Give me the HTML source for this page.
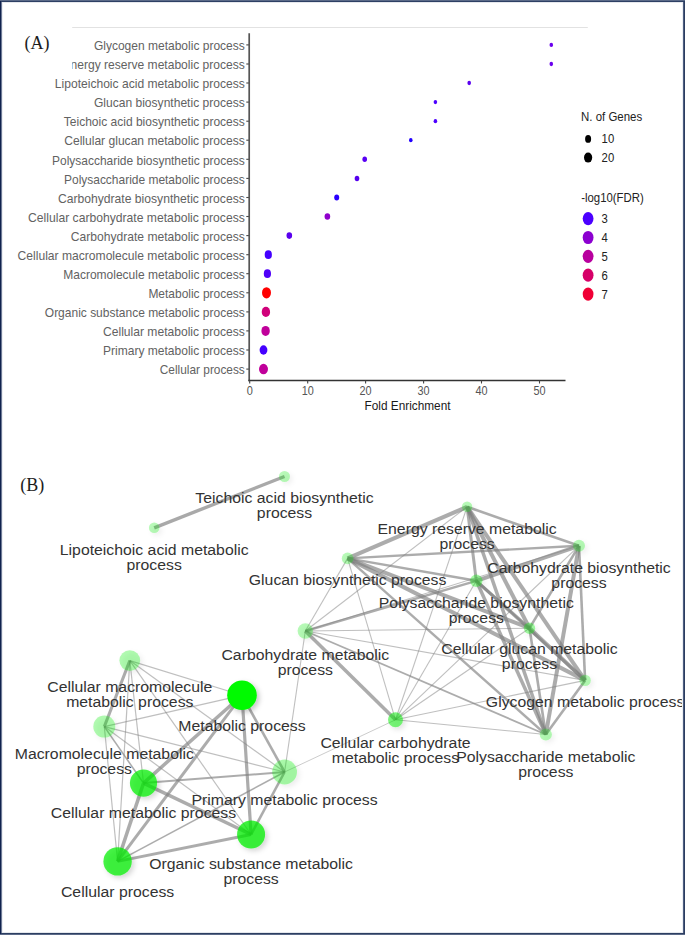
<!DOCTYPE html>
<html><head><meta charset="utf-8"><style>
html,body{margin:0;padding:0;background:#fff;}
#wrap{position:relative;width:685px;height:935px;overflow:hidden;background:#fff;}
svg{position:absolute;left:0;top:0;}
.b{position:absolute;}
</style></head><body><div id="wrap">
<svg width="685" height="935" viewBox="0 0 685 935">
<defs>
<clipPath id="clipE"><rect x="72.2" y="0" width="300" height="935"/></clipPath>
<filter id="sh" x="-60%" y="-60%" width="240%" height="240%"><feDropShadow dx="2.5" dy="2.5" stdDeviation="2.5" flood-color="#000" flood-opacity="0.22"/></filter>
</defs>
<line x1="72.2" y1="27.5" x2="587.8" y2="27.5" stroke="#e2e2e2" stroke-width="1.2"/>
<g font-family="Liberation Sans, sans-serif" font-size="12.9" fill="#626262" text-anchor="end">
<text x="244.8" y="50.1" textLength="150.9" lengthAdjust="spacingAndGlyphs">Glycogen metabolic process</text>
<text x="244.8" y="69.2" textLength="182.3" lengthAdjust="spacingAndGlyphs" clip-path="url(#clipE)">Energy reserve metabolic process</text>
<text x="244.8" y="88.2" textLength="190.0" lengthAdjust="spacingAndGlyphs">Lipoteichoic acid metabolic process</text>
<text x="244.8" y="107.3" textLength="150.9" lengthAdjust="spacingAndGlyphs">Glucan biosynthetic process</text>
<text x="244.8" y="126.4" textLength="181.0" lengthAdjust="spacingAndGlyphs">Teichoic acid biosynthetic process</text>
<text x="244.8" y="145.4" textLength="180.6" lengthAdjust="spacingAndGlyphs">Cellular glucan metabolic process</text>
<text x="244.8" y="164.5" textLength="192.7" lengthAdjust="spacingAndGlyphs">Polysaccharide biosynthetic process</text>
<text x="244.8" y="183.6" textLength="180.8" lengthAdjust="spacingAndGlyphs">Polysaccharide metabolic process</text>
<text x="244.8" y="202.7" textLength="186.9" lengthAdjust="spacingAndGlyphs">Carbohydrate biosynthetic process</text>
<text x="244.8" y="221.7" textLength="216.8" lengthAdjust="spacingAndGlyphs">Cellular carbohydrate metabolic process</text>
<text x="244.8" y="240.8" textLength="174.0" lengthAdjust="spacingAndGlyphs">Carbohydrate metabolic process</text>
<text x="244.8" y="259.9" textLength="227.2" lengthAdjust="spacingAndGlyphs">Cellular macromolecule metabolic process</text>
<text x="244.8" y="278.9" textLength="181.6" lengthAdjust="spacingAndGlyphs">Macromolecule metabolic process</text>
<text x="244.8" y="298.0" textLength="96.4" lengthAdjust="spacingAndGlyphs">Metabolic process</text>
<text x="244.8" y="317.1" textLength="200.0" lengthAdjust="spacingAndGlyphs">Organic substance metabolic process</text>
<text x="244.8" y="336.1" textLength="141.8" lengthAdjust="spacingAndGlyphs">Cellular metabolic process</text>
<text x="244.8" y="355.2" textLength="141.8" lengthAdjust="spacingAndGlyphs">Primary metabolic process</text>
<text x="244.8" y="374.3" textLength="85.0" lengthAdjust="spacingAndGlyphs">Cellular process</text>
</g>
<line x1="246.3" y1="44.9" x2="249.2" y2="44.9" stroke="#444" stroke-width="1.1"/>
<line x1="246.3" y1="64.0" x2="249.2" y2="64.0" stroke="#444" stroke-width="1.1"/>
<line x1="246.3" y1="83.0" x2="249.2" y2="83.0" stroke="#444" stroke-width="1.1"/>
<line x1="246.3" y1="102.1" x2="249.2" y2="102.1" stroke="#444" stroke-width="1.1"/>
<line x1="246.3" y1="121.2" x2="249.2" y2="121.2" stroke="#444" stroke-width="1.1"/>
<line x1="246.3" y1="140.2" x2="249.2" y2="140.2" stroke="#444" stroke-width="1.1"/>
<line x1="246.3" y1="159.3" x2="249.2" y2="159.3" stroke="#444" stroke-width="1.1"/>
<line x1="246.3" y1="178.4" x2="249.2" y2="178.4" stroke="#444" stroke-width="1.1"/>
<line x1="246.3" y1="197.5" x2="249.2" y2="197.5" stroke="#444" stroke-width="1.1"/>
<line x1="246.3" y1="216.5" x2="249.2" y2="216.5" stroke="#444" stroke-width="1.1"/>
<line x1="246.3" y1="235.6" x2="249.2" y2="235.6" stroke="#444" stroke-width="1.1"/>
<line x1="246.3" y1="254.7" x2="249.2" y2="254.7" stroke="#444" stroke-width="1.1"/>
<line x1="246.3" y1="273.7" x2="249.2" y2="273.7" stroke="#444" stroke-width="1.1"/>
<line x1="246.3" y1="292.8" x2="249.2" y2="292.8" stroke="#444" stroke-width="1.1"/>
<line x1="246.3" y1="311.9" x2="249.2" y2="311.9" stroke="#444" stroke-width="1.1"/>
<line x1="246.3" y1="330.9" x2="249.2" y2="330.9" stroke="#444" stroke-width="1.1"/>
<line x1="246.3" y1="350.0" x2="249.2" y2="350.0" stroke="#444" stroke-width="1.1"/>
<line x1="246.3" y1="369.1" x2="249.2" y2="369.1" stroke="#444" stroke-width="1.1"/>
<line x1="249.2" y1="33.3" x2="249.2" y2="381.3" stroke="#555" stroke-width="1.7"/>
<line x1="248.4" y1="380.5" x2="565.5" y2="380.5" stroke="#333" stroke-width="1.7"/>
<g font-family="Liberation Sans, sans-serif" font-size="12.6" fill="#555" text-anchor="middle">
<line x1="249.7" y1="380.5" x2="249.7" y2="383.5" stroke="#444" stroke-width="1.1"/>
<text x="249.7" y="395.2" textLength="6.1" lengthAdjust="spacingAndGlyphs">0</text>
<line x1="307.7" y1="380.5" x2="307.7" y2="383.5" stroke="#444" stroke-width="1.1"/>
<text x="307.7" y="395.2" textLength="12.1" lengthAdjust="spacingAndGlyphs">10</text>
<line x1="365.6" y1="380.5" x2="365.6" y2="383.5" stroke="#444" stroke-width="1.1"/>
<text x="365.6" y="395.2" textLength="12.1" lengthAdjust="spacingAndGlyphs">20</text>
<line x1="423.6" y1="380.5" x2="423.6" y2="383.5" stroke="#444" stroke-width="1.1"/>
<text x="423.6" y="395.2" textLength="12.1" lengthAdjust="spacingAndGlyphs">30</text>
<line x1="481.5" y1="380.5" x2="481.5" y2="383.5" stroke="#444" stroke-width="1.1"/>
<text x="481.5" y="395.2" textLength="12.1" lengthAdjust="spacingAndGlyphs">40</text>
<line x1="539.5" y1="380.5" x2="539.5" y2="383.5" stroke="#444" stroke-width="1.1"/>
<text x="539.5" y="395.2" textLength="12.1" lengthAdjust="spacingAndGlyphs">50</text>
</g>
<text x="407.5" y="410.3" font-family="Liberation Sans, sans-serif" font-size="13" fill="#1a1a1a" text-anchor="middle" textLength="86" lengthAdjust="spacingAndGlyphs">Fold Enrichment</text>
<ellipse cx="551.3" cy="44.9" rx="1.8" ry="2.15" fill="#6a00ee"/>
<ellipse cx="551.3" cy="64.0" rx="1.8" ry="2.15" fill="#6a00ee"/>
<ellipse cx="469.2" cy="83.0" rx="1.8" ry="2.15" fill="#5a00f0"/>
<ellipse cx="435.4" cy="102.1" rx="1.8" ry="2.15" fill="#4d00ff"/>
<ellipse cx="435.4" cy="121.2" rx="1.8" ry="2.15" fill="#4d00ff"/>
<ellipse cx="410.8" cy="140.2" rx="1.8" ry="2.15" fill="#2200ff"/>
<ellipse cx="364.7" cy="159.3" rx="2.3" ry="2.75" fill="#5800f4"/>
<ellipse cx="357.0" cy="178.4" rx="2.3" ry="2.75" fill="#5500ee"/>
<ellipse cx="336.7" cy="197.5" rx="2.5" ry="2.9" fill="#2a00ff"/>
<ellipse cx="327.4" cy="216.5" rx="2.8" ry="3.3" fill="#9000cc"/>
<ellipse cx="289.3" cy="235.6" rx="2.8" ry="3.3" fill="#5a00ee"/>
<ellipse cx="268.3" cy="254.7" rx="3.6" ry="4.35" fill="#4400ff"/>
<ellipse cx="267.4" cy="273.7" rx="3.6" ry="4.35" fill="#5000f8"/>
<ellipse cx="266.5" cy="292.8" rx="4.5" ry="5.6" fill="#ff0000"/>
<ellipse cx="265.9" cy="311.9" rx="4.2" ry="5.1" fill="#d0007a"/>
<ellipse cx="265.6" cy="330.9" rx="4.2" ry="5.0" fill="#c0009a"/>
<ellipse cx="263.5" cy="350.0" rx="3.9" ry="4.65" fill="#4400ff"/>
<ellipse cx="263.5" cy="369.1" rx="4.5" ry="5.25" fill="#c0009a"/>
<g font-family="Liberation Sans, sans-serif" fill="#222">
<text x="581.1" y="121.1" font-size="12.6" textLength="61.1" lengthAdjust="spacingAndGlyphs">N. of Genes</text>
<ellipse cx="588.1" cy="138.9" rx="3.0" ry="3.9" fill="#000"/>
<ellipse cx="588.1" cy="157.6" rx="4.1" ry="5.0" fill="#000"/>
<text x="601.6" y="143.2" font-size="13.2" textLength="12.6" lengthAdjust="spacingAndGlyphs">10</text>
<text x="601.6" y="162.4" font-size="13.2" textLength="12.6" lengthAdjust="spacingAndGlyphs">20</text>
<text x="581.2" y="201.6" font-size="12.6" textLength="62.5" lengthAdjust="spacingAndGlyphs">-log10(FDR)</text>
<ellipse cx="588.1" cy="218.6" rx="5.4" ry="6.6" fill="#4b00ff"/>
<text x="601.4" y="223.2" font-size="13.2" textLength="6.3" lengthAdjust="spacingAndGlyphs">3</text>
<ellipse cx="588.1" cy="237.5" rx="5.4" ry="6.6" fill="#8c00d0"/>
<text x="601.4" y="242.1" font-size="13.2" textLength="6.3" lengthAdjust="spacingAndGlyphs">4</text>
<ellipse cx="588.1" cy="256.3" rx="5.4" ry="6.6" fill="#b8009e"/>
<text x="601.4" y="260.9" font-size="13.2" textLength="6.3" lengthAdjust="spacingAndGlyphs">5</text>
<ellipse cx="588.1" cy="275.2" rx="5.4" ry="6.6" fill="#d60068"/>
<text x="601.4" y="279.8" font-size="13.2" textLength="6.3" lengthAdjust="spacingAndGlyphs">6</text>
<ellipse cx="588.1" cy="294.1" rx="5.4" ry="6.6" fill="#f00035"/>
<text x="601.4" y="298.7" font-size="13.2" textLength="6.3" lengthAdjust="spacingAndGlyphs">7</text>
</g>
<text x="24.6" y="48.6" font-family="Liberation Serif, serif" font-size="18" fill="#1c1c1c">(A)</text>
<text x="20.2" y="490.5" font-family="Liberation Serif, serif" font-size="18" fill="#1c1c1c">(B)</text>
<g stroke="#808080" stroke-linecap="butt" fill="none">
<line x1="284.5" y1="476.5" x2="154.2" y2="527.8" stroke-width="3.4" stroke-opacity="0.68"/>
<line x1="467.1" y1="506.8" x2="579.0" y2="545.8" stroke-width="2.6" stroke-opacity="0.65"/>
<line x1="467.1" y1="506.8" x2="347.6" y2="558.4" stroke-width="4.0" stroke-opacity="0.65"/>
<line x1="467.1" y1="506.8" x2="476.3" y2="580.8" stroke-width="3.0" stroke-opacity="0.65"/>
<line x1="467.1" y1="506.8" x2="305.3" y2="631.0" stroke-width="1.1" stroke-opacity="0.5"/>
<line x1="467.1" y1="506.8" x2="529.5" y2="628.2" stroke-width="4.0" stroke-opacity="0.65"/>
<line x1="467.1" y1="506.8" x2="585.1" y2="680.4" stroke-width="4.0" stroke-opacity="0.65"/>
<line x1="467.1" y1="506.8" x2="395.5" y2="719.8" stroke-width="1.1" stroke-opacity="0.5"/>
<line x1="467.1" y1="506.8" x2="545.8" y2="734.5" stroke-width="3.5" stroke-opacity="0.65"/>
<line x1="579.0" y1="545.8" x2="347.6" y2="558.4" stroke-width="2.4" stroke-opacity="0.65"/>
<line x1="579.0" y1="545.8" x2="476.3" y2="580.8" stroke-width="4.0" stroke-opacity="0.65"/>
<line x1="579.0" y1="545.8" x2="305.3" y2="631.0" stroke-width="1.1" stroke-opacity="0.5"/>
<line x1="579.0" y1="545.8" x2="529.5" y2="628.2" stroke-width="2.6" stroke-opacity="0.65"/>
<line x1="579.0" y1="545.8" x2="585.1" y2="680.4" stroke-width="2.6" stroke-opacity="0.65"/>
<line x1="579.0" y1="545.8" x2="395.5" y2="719.8" stroke-width="1.1" stroke-opacity="0.5"/>
<line x1="579.0" y1="545.8" x2="545.8" y2="734.5" stroke-width="4.0" stroke-opacity="0.65"/>
<line x1="347.6" y1="558.4" x2="476.3" y2="580.8" stroke-width="2.4" stroke-opacity="0.65"/>
<line x1="347.6" y1="558.4" x2="305.3" y2="631.0" stroke-width="1.1" stroke-opacity="0.5"/>
<line x1="347.6" y1="558.4" x2="529.5" y2="628.2" stroke-width="4.0" stroke-opacity="0.65"/>
<line x1="347.6" y1="558.4" x2="585.1" y2="680.4" stroke-width="4.0" stroke-opacity="0.65"/>
<line x1="347.6" y1="558.4" x2="395.5" y2="719.8" stroke-width="1.1" stroke-opacity="0.5"/>
<line x1="347.6" y1="558.4" x2="545.8" y2="734.5" stroke-width="2.4" stroke-opacity="0.65"/>
<line x1="476.3" y1="580.8" x2="305.3" y2="631.0" stroke-width="2.4" stroke-opacity="0.65"/>
<line x1="476.3" y1="580.8" x2="529.5" y2="628.2" stroke-width="3.0" stroke-opacity="0.65"/>
<line x1="476.3" y1="580.8" x2="585.1" y2="680.4" stroke-width="3.0" stroke-opacity="0.65"/>
<line x1="476.3" y1="580.8" x2="395.5" y2="719.8" stroke-width="1.1" stroke-opacity="0.5"/>
<line x1="476.3" y1="580.8" x2="545.8" y2="734.5" stroke-width="3.5" stroke-opacity="0.65"/>
<line x1="305.3" y1="631.0" x2="529.5" y2="628.2" stroke-width="1.1" stroke-opacity="0.5"/>
<line x1="305.3" y1="631.0" x2="585.1" y2="680.4" stroke-width="1.1" stroke-opacity="0.5"/>
<line x1="305.3" y1="631.0" x2="395.5" y2="719.8" stroke-width="3.5" stroke-opacity="0.65"/>
<line x1="305.3" y1="631.0" x2="545.8" y2="734.5" stroke-width="1.8" stroke-opacity="0.65"/>
<line x1="529.5" y1="628.2" x2="585.1" y2="680.4" stroke-width="4.0" stroke-opacity="0.65"/>
<line x1="529.5" y1="628.2" x2="395.5" y2="719.8" stroke-width="1.1" stroke-opacity="0.5"/>
<line x1="529.5" y1="628.2" x2="545.8" y2="734.5" stroke-width="2.6" stroke-opacity="0.65"/>
<line x1="585.1" y1="680.4" x2="395.5" y2="719.8" stroke-width="1.1" stroke-opacity="0.5"/>
<line x1="585.1" y1="680.4" x2="545.8" y2="734.5" stroke-width="2.6" stroke-opacity="0.65"/>
<line x1="395.5" y1="719.8" x2="545.8" y2="734.5" stroke-width="1.1" stroke-opacity="0.5"/>
<line x1="305.3" y1="631.0" x2="284.6" y2="772.0" stroke-width="1.1" stroke-opacity="0.5"/>
<line x1="395.5" y1="719.8" x2="284.6" y2="772.0" stroke-width="1.0" stroke-opacity="0.4"/>
<line x1="129.8" y1="660.6" x2="242.0" y2="695.3" stroke-width="1.2" stroke-opacity="0.5"/>
<line x1="129.8" y1="660.6" x2="104.3" y2="726.6" stroke-width="3.0" stroke-opacity="0.65"/>
<line x1="129.8" y1="660.6" x2="284.6" y2="772.0" stroke-width="1.2" stroke-opacity="0.5"/>
<line x1="129.8" y1="660.6" x2="143.5" y2="783.1" stroke-width="1.2" stroke-opacity="0.5"/>
<line x1="129.8" y1="660.6" x2="251.1" y2="834.5" stroke-width="1.2" stroke-opacity="0.5"/>
<line x1="129.8" y1="660.6" x2="117.6" y2="861.4" stroke-width="1.2" stroke-opacity="0.5"/>
<line x1="242.0" y1="695.3" x2="104.3" y2="726.6" stroke-width="1.2" stroke-opacity="0.5"/>
<line x1="242.0" y1="695.3" x2="284.6" y2="772.0" stroke-width="2.6" stroke-opacity="0.65"/>
<line x1="242.0" y1="695.3" x2="143.5" y2="783.1" stroke-width="3.5" stroke-opacity="0.65"/>
<line x1="242.0" y1="695.3" x2="251.1" y2="834.5" stroke-width="3.2" stroke-opacity="0.65"/>
<line x1="242.0" y1="695.3" x2="117.6" y2="861.4" stroke-width="3.0" stroke-opacity="0.65"/>
<line x1="104.3" y1="726.6" x2="284.6" y2="772.0" stroke-width="1.2" stroke-opacity="0.5"/>
<line x1="104.3" y1="726.6" x2="143.5" y2="783.1" stroke-width="1.6" stroke-opacity="0.65"/>
<line x1="104.3" y1="726.6" x2="251.1" y2="834.5" stroke-width="1.2" stroke-opacity="0.5"/>
<line x1="104.3" y1="726.6" x2="117.6" y2="861.4" stroke-width="1.2" stroke-opacity="0.5"/>
<line x1="284.6" y1="772.0" x2="143.5" y2="783.1" stroke-width="2.0" stroke-opacity="0.65"/>
<line x1="284.6" y1="772.0" x2="251.1" y2="834.5" stroke-width="2.6" stroke-opacity="0.65"/>
<line x1="284.6" y1="772.0" x2="117.6" y2="861.4" stroke-width="1.6" stroke-opacity="0.65"/>
<line x1="143.5" y1="783.1" x2="251.1" y2="834.5" stroke-width="3.5" stroke-opacity="0.65"/>
<line x1="143.5" y1="783.1" x2="117.6" y2="861.4" stroke-width="3.5" stroke-opacity="0.65"/>
<line x1="251.1" y1="834.5" x2="117.6" y2="861.4" stroke-width="3.0" stroke-opacity="0.65"/>
</g>
<circle cx="284.5" cy="476.5" r="5.5" fill="rgb(0,238,0)" fill-opacity="0.27" filter="url(#sh)"/>
<circle cx="154.2" cy="527.8" r="5.3" fill="rgb(0,238,0)" fill-opacity="0.27" filter="url(#sh)"/>
<circle cx="467.1" cy="506.8" r="5.2" fill="rgb(0,238,0)" fill-opacity="0.28" filter="url(#sh)"/>
<circle cx="579.0" cy="545.8" r="6.0" fill="rgb(0,238,0)" fill-opacity="0.28" filter="url(#sh)"/>
<circle cx="347.6" cy="558.4" r="5.8" fill="rgb(0,238,0)" fill-opacity="0.28" filter="url(#sh)"/>
<circle cx="476.3" cy="580.8" r="6.2" fill="rgb(0,238,0)" fill-opacity="0.35" filter="url(#sh)"/>
<circle cx="305.3" cy="631.0" r="7.7" fill="rgb(0,238,0)" fill-opacity="0.28" filter="url(#sh)"/>
<circle cx="529.5" cy="628.2" r="5.7" fill="rgb(0,238,0)" fill-opacity="0.35" filter="url(#sh)"/>
<circle cx="585.1" cy="680.4" r="5.7" fill="rgb(0,238,0)" fill-opacity="0.28" filter="url(#sh)"/>
<circle cx="395.5" cy="719.8" r="7.5" fill="rgb(0,238,0)" fill-opacity="0.5" filter="url(#sh)"/>
<circle cx="545.8" cy="734.5" r="6.1" fill="rgb(0,238,0)" fill-opacity="0.28" filter="url(#sh)"/>
<circle cx="129.8" cy="660.6" r="10.4" fill="rgb(0,238,0)" fill-opacity="0.3" filter="url(#sh)"/>
<circle cx="242.0" cy="695.3" r="14.8" fill="rgb(0,250,0)" fill-opacity="1.0" filter="url(#sh)"/>
<circle cx="104.3" cy="726.6" r="11.0" fill="rgb(0,238,0)" fill-opacity="0.3" filter="url(#sh)"/>
<circle cx="284.6" cy="772.0" r="12.4" fill="rgb(0,238,0)" fill-opacity="0.32" filter="url(#sh)"/>
<circle cx="143.5" cy="783.1" r="13.6" fill="rgb(0,238,0)" fill-opacity="0.72" filter="url(#sh)"/>
<circle cx="251.1" cy="834.5" r="14.0" fill="rgb(0,238,0)" fill-opacity="0.74" filter="url(#sh)"/>
<circle cx="117.6" cy="861.4" r="14.2" fill="rgb(0,238,0)" fill-opacity="0.72" filter="url(#sh)"/>
<g font-family="Liberation Sans, sans-serif" font-size="15.4" fill="#333" text-anchor="middle">
<text x="284.5" y="502.5" textLength="178.3" lengthAdjust="spacingAndGlyphs">Teichoic acid biosynthetic</text>
<text x="284.5" y="517.5" textLength="55.3" lengthAdjust="spacingAndGlyphs">process</text>
<text x="154.2" y="554.8" textLength="188.8" lengthAdjust="spacingAndGlyphs">Lipoteichoic acid metabolic</text>
<text x="154.2" y="569.8" textLength="55.3" lengthAdjust="spacingAndGlyphs">process</text>
<text x="467.1" y="533.5" textLength="179.1" lengthAdjust="spacingAndGlyphs">Energy reserve metabolic</text>
<text x="467.1" y="548.5" textLength="55.3" lengthAdjust="spacingAndGlyphs">process</text>
<text x="579.0" y="572.5" textLength="183.5" lengthAdjust="spacingAndGlyphs">Carbohydrate biosynthetic</text>
<text x="579.0" y="587.5" textLength="55.3" lengthAdjust="spacingAndGlyphs">process</text>
<text x="347.6" y="584.5" textLength="197.6" lengthAdjust="spacingAndGlyphs">Glucan biosynthetic process</text>
<text x="476.3" y="607.5" textLength="195.0" lengthAdjust="spacingAndGlyphs">Polysaccharide biosynthetic</text>
<text x="476.3" y="622.5" textLength="55.3" lengthAdjust="spacingAndGlyphs">process</text>
<text x="305.3" y="659.7" textLength="167.7" lengthAdjust="spacingAndGlyphs">Carbohydrate metabolic</text>
<text x="305.3" y="674.7" textLength="55.3" lengthAdjust="spacingAndGlyphs">process</text>
<text x="529.5" y="654.4" textLength="176.5" lengthAdjust="spacingAndGlyphs">Cellular glucan metabolic</text>
<text x="529.5" y="669.4" textLength="55.3" lengthAdjust="spacingAndGlyphs">process</text>
<text x="585.1" y="706.7" textLength="198.5" lengthAdjust="spacingAndGlyphs">Glycogen metabolic process</text>
<text x="395.5" y="748.0" textLength="150.2" lengthAdjust="spacingAndGlyphs">Cellular carbohydrate</text>
<text x="395.5" y="763.0" textLength="127.3" lengthAdjust="spacingAndGlyphs">metabolic process</text>
<text x="545.8" y="761.7" textLength="179.1" lengthAdjust="spacingAndGlyphs">Polysaccharide metabolic</text>
<text x="545.8" y="776.7" textLength="55.3" lengthAdjust="spacingAndGlyphs">process</text>
<text x="129.8" y="692.1" textLength="165.1" lengthAdjust="spacingAndGlyphs">Cellular macromolecule</text>
<text x="129.8" y="707.1" textLength="127.3" lengthAdjust="spacingAndGlyphs">metabolic process</text>
<text x="242.0" y="730.8" textLength="127.3" lengthAdjust="spacingAndGlyphs">Metabolic process</text>
<text x="104.3" y="758.8" textLength="179.1" lengthAdjust="spacingAndGlyphs">Macromolecule metabolic</text>
<text x="104.3" y="773.8" textLength="55.3" lengthAdjust="spacingAndGlyphs">process</text>
<text x="284.6" y="805.0" textLength="186.1" lengthAdjust="spacingAndGlyphs">Primary metabolic process</text>
<text x="143.5" y="817.5" textLength="185.3" lengthAdjust="spacingAndGlyphs">Cellular metabolic process</text>
<text x="251.1" y="869.4" textLength="203.7" lengthAdjust="spacingAndGlyphs">Organic substance metabolic</text>
<text x="251.1" y="884.4" textLength="55.3" lengthAdjust="spacingAndGlyphs">process</text>
<text x="117.6" y="897.0" textLength="113.3" lengthAdjust="spacingAndGlyphs">Cellular process</text>
</g>
</svg>
<div class="b" style="left:0;top:0;width:685px;height:1px;background:#5b6a88"></div>
<div class="b" style="left:0;top:1px;width:685px;height:1px;background:#2d4064"></div>
<div class="b" style="left:2px;top:2px;width:681px;height:1px;background:#e6e8ed"></div>
<div class="b" style="left:0;top:933px;width:685px;height:1px;background:#2c3e62"></div>
<div class="b" style="left:0;top:934px;width:685px;height:1px;background:#5b6a88"></div>
<div class="b" style="left:2px;top:932px;width:681px;height:1px;background:#e4e7ec"></div>
<div class="b" style="left:0;top:1px;width:1px;height:933px;background:#10224e"></div>
<div class="b" style="left:1px;top:2px;width:1px;height:931px;background:#6e7a96"></div>
<div class="b" style="left:2px;top:3px;width:1px;height:929px;background:#eceef2"></div>
<div class="b" style="left:684px;top:1px;width:1px;height:933px;background:#2c3d60"></div>
<div class="b" style="left:683px;top:2px;width:1px;height:931px;background:#4d5d80"></div>
<div class="b" style="left:682px;top:3px;width:1px;height:929px;background:#eceef2"></div>
</div></body></html>
